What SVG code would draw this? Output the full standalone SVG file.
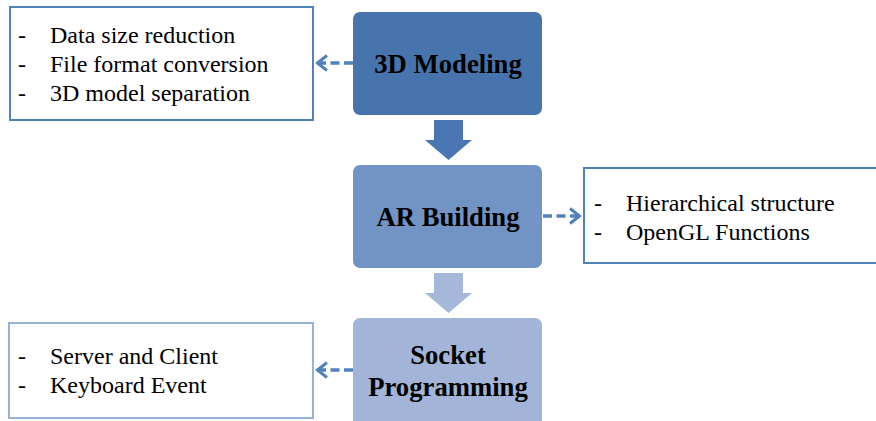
<svg xmlns="http://www.w3.org/2000/svg" width="876" height="421" viewBox="0 0 876 421">
  <defs>
    <style>
      .stage text { font-family: "Liberation Serif", "Times New Roman", serif; font-weight: bold; font-size: 26.7px; fill: #000; text-anchor: middle; }
      .note rect { fill: #fff; stroke-width: 2; }
      .note text { font-family: "Liberation Serif", "Times New Roman", serif; font-size: 24px; fill: #000; }
      .link { stroke: #4F81BD; stroke-width: 3.5; fill: none; stroke-dasharray: 9 4.5; }
    </style>
    <marker id="chevron" viewBox="0 0 14 18" refX="12" refY="9" markerWidth="14" markerHeight="18" markerUnits="userSpaceOnUse" orient="auto">
      <path d="M2,1.5 L11.5,9 L2,16.5" fill="none" stroke="#4F81BD" stroke-width="3"/>
    </marker>
  </defs>

  <!-- process stages -->
  <g id="modeling" class="stage">
    <rect x="353" y="12" width="189" height="103" rx="7" fill="#4874AD"/>
    <text x="448" y="73">3D Modeling</text>
  </g>
  <g id="ar-building" class="stage">
    <rect x="353" y="165" width="189" height="103" rx="7" fill="#7294C5"/>
    <text x="448" y="226">AR Building</text>
  </g>
  <g id="socket" class="stage">
    <rect x="353" y="318" width="189" height="110" rx="7" fill="#A2B5D8"/>
    <text x="448" y="364">Socket</text>
    <text x="448" y="396">Programming</text>
  </g>

  <!-- detail notes -->
  <g id="modeling-notes" class="note">
    <rect x="10" y="7" width="303" height="113" stroke="#4F81BD"/>
    <text x="18" y="43">-</text><text x="50" y="43">Data size reduction</text>
    <text x="18" y="72">-</text><text x="50" y="72">File format conversion</text>
    <text x="18" y="101">-</text><text x="50" y="101">3D model separation</text>
  </g>
  <g id="ar-notes" class="note">
    <rect x="584" y="168" width="300" height="95" stroke="#4F81BD"/>
    <text x="594" y="211">-</text><text x="626" y="211">Hierarchical structure</text>
    <text x="594" y="240">-</text><text x="626" y="240">OpenGL Functions</text>
  </g>
  <g id="socket-notes" class="note">
    <rect x="9" y="323" width="304" height="95" stroke="#95B3D7"/>
    <text x="18" y="364">-</text><text x="50" y="364">Server and Client</text>
    <text x="18" y="393">-</text><text x="50" y="393">Keyboard Event</text>
  </g>

  <!-- connectors -->
  <g id="connectors">
    <polygon points="434,120 463,120 463,140 472,140 448.5,160 425,140 434,140" fill="#4A77B4"/>
    <polygon points="434,273 463,273 463,293 472,293 448.5,313 425,293 434,293" fill="#A5B8DA"/>
    <line class="link" x1="353" y1="63" x2="317" y2="63" marker-end="url(#chevron)"/>
    <line class="link" x1="543" y1="216" x2="580" y2="216" marker-end="url(#chevron)"/>
    <line class="link" x1="353" y1="370" x2="317" y2="370" marker-end="url(#chevron)"/>
  </g>
</svg>
